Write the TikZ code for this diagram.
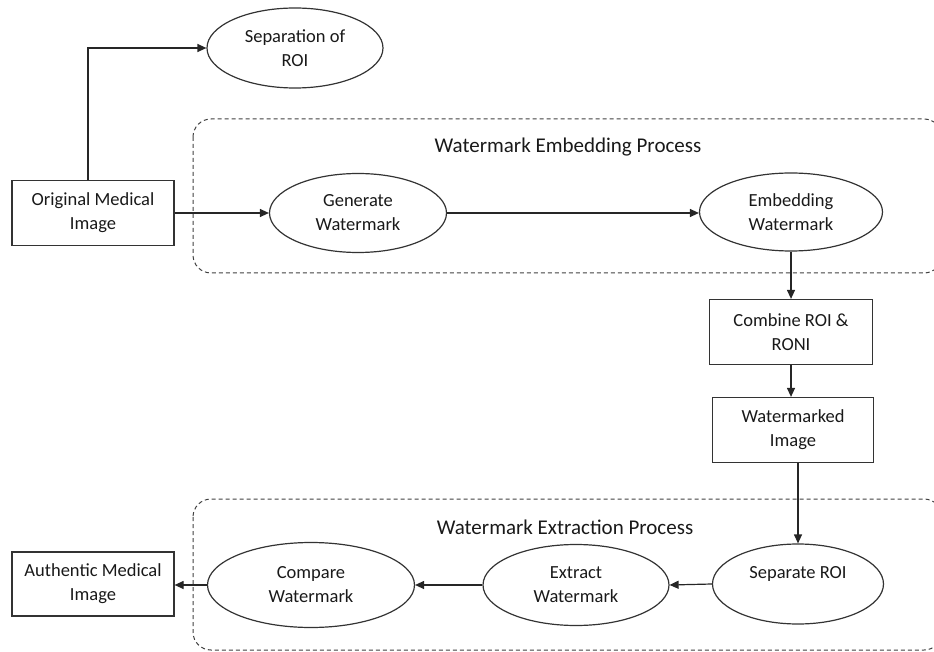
\documentclass[tikz,border=0pt]{standalone}
\usepackage{fontspec}
\setmainfont{Carlito}
\usetikzlibrary{shapes.geometric,arrows.meta}
\begin{document}
\begin{tikzpicture}[x=1pt,y=-1pt,
		procbox/.style={draw=black!80,line width=1.2pt,minimum width=162pt,minimum height=65pt,align=center,inner sep=0pt},
		procell/.style={draw=black!80,line width=1.2pt,ellipse,minimum width=178pt,minimum height=80pt,align=center,inner sep=0pt},
		region/.style={draw=black!75,dash pattern=on 4pt off 3pt,line width=1pt,rounded corners=18pt},
		flow/.style={draw=black!85,line width=1.2pt,-{Triangle[length=9pt,width=8pt]}},
		font=\fontsize{18.5}{24}\selectfont, text=black!90]
		\useasboundingbox (0,0) rectangle (934,652);
		\clip (0,0) rectangle (934,652);
		% dashed regions
		\draw[region] (193,119) rectangle (942,273);
		\draw[region] (193,499) rectangle (942,650);
		\node (embtitle) at (568,147) {\fontsize{21}{25}\selectfont Watermark Embedding Process};
		\node (exttitle) at (565,527) {\fontsize{21}{25}\selectfont Watermark Extraction Process};
		% upper row
		\node[procbox] (orig) at (93,213) {Original Medical\\Image};
		\node[procell,minimum width=176pt] (sepa) at (295,48) {Separation of\\ROI};
		\node[procell,minimum width=177pt,minimum height=79pt] (gen) at (358,213) {Generate\\Watermark};
		\node[procell,minimum width=183pt,minimum height=78pt] (emb) at (791,212) {Embedding\\Watermark};
		\node[procbox,minimum width=163pt] (comb) at (791,332) {Combine ROI \&\\RONI};
		\node[procbox,minimum width=161pt] (wmk) at (793,430) {Watermarked\\Image};
		% lower row
		\node[procell,minimum width=171pt] (sepr) at (798,584) {Separate ROI\\\mbox{}};
		\node[procell,minimum width=186pt,minimum height=81pt] (ext) at (576,585) {Extract\\Watermark};
		\node[procell,minimum width=207pt,minimum height=85pt] (comp) at (311,585) {Compare\\Watermark};
		\node[procbox,minimum height=64pt] (auth) at (93,584) {Authentic Medical\\Image};
		% connectors
		\draw[flow] ([xshift=-5pt]orig.north) |- (sepa.west);
		\draw[flow] (orig.east |- gen) -- (gen.west);
		\draw[flow] (gen.east) -- (emb.west |- gen);
		\draw[flow] (emb.south) -- (comb.north);
		\draw[flow] (comb.south) -- (comb.south |- wmk.north);
		\draw[flow] (wmk.south -| sepr) -- (sepr.north);
		\draw[flow] (sepr.west) -- (ext.east);
		\draw[flow] (ext.west) -- (comp.east);
		\draw[flow] (comp.west) -- (auth.east |- comp);
\end{tikzpicture}
\end{document}
